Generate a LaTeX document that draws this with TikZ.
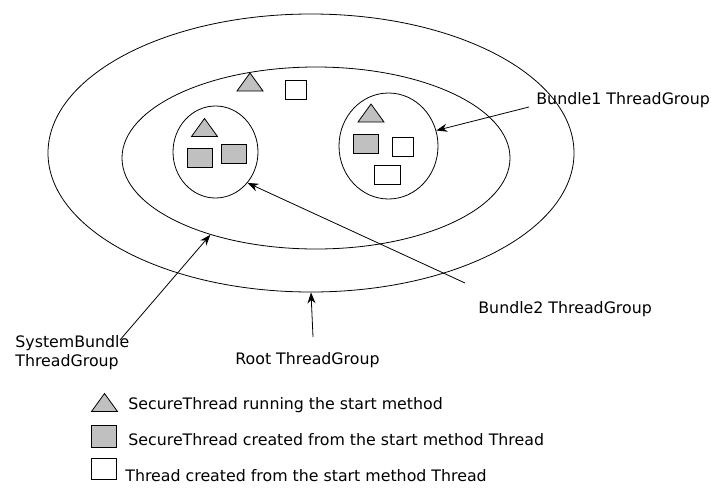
\documentclass[tikz,border=0pt]{standalone}
\usepackage{fontspec}
\setmainfont{DejaVu Sans}
\usetikzlibrary{shapes.geometric,arrows.meta,positioning}
\definecolor{threadgray}{RGB}{192,192,192}
\tikzstyle{tgroup} = [draw, ellipse, inner sep=0pt, line width=0.8pt]
\tikzstyle{grouplabel} = [anchor=west, inner sep=0pt, align=left, font=\fontsize{15.8}{19.5}\selectfont]
\tikzstyle{secthread} = [draw, rectangle, fill=threadgray, inner sep=0pt, minimum width=25pt, minimum height=19pt, line width=0.8pt]
\tikzstyle{thread} = [draw, rectangle, fill=white, inner sep=0pt, minimum width=21pt, minimum height=19pt, line width=0.8pt]
\tikzset{pics/running/.style={code={\draw[fill=threadgray, line width=0.8pt] (-13,9) -- (13,9) -- (0,-9) -- cycle;}}}

\begin{document}
\begin{tikzpicture}[x=1pt, y=-1pt, >={Stealth[length=11pt,width=8pt]}, line width=0.8pt]
\useasboundingbox (0,0) rectangle (711,490);

% thread groups
\node [tgroup, minimum width=526pt, minimum height=278pt] (root) at (311,153) {};
\node [tgroup, minimum width=388pt, minimum height=182pt] (sysbundle) at (316,158) {};
\node [tgroup, minimum width=85pt, minimum height=92pt] (bundle2) at (215.5,152) {};
\node [tgroup, minimum width=99pt, minimum height=106pt] (bundle1) at (388.5,146) {};

% threads
\pic at (250,82) {running};
\node [thread] (t0) at (295.5,89.5) {};
\pic at (204.5,127.5) {running};
\node [secthread] (s1) at (199.5,157.5) {};
\node [secthread] (s2) at (233.5,153.5) {};
\pic at (371,113) {running};
\node [secthread] (s3) at (365.5,143.5) {};
\node [thread] (t1) at (402.5,146.5) {};
\node [thread, minimum width=26pt] (t2) at (387,174.5) {};

% labels
\node [grouplabel] (l1) at (536,100) {Bundle1 ThreadGroup};
\node [grouplabel] (l2) at (478,309) {Bundle2 ThreadGroup};
\node [grouplabel] (l3) at (15,352.5) {SystemBundle\\ThreadGroup};
\node [grouplabel] (l4) at (235,360) {Root ThreadGroup};

\coordinate (a1) at (529,107);
\coordinate (a2) at (465,283);
\coordinate (a3) at (120,340);
\coordinate (a4) at (313,337);
\draw [->] (a1) -- (bundle1.18);
\draw [->] (a2) -- (bundle2.-44);
\draw [->] (a3) -- (sysbundle.216);
\draw [->] (a4) -- (root.south);

% legend
\pic at (104.5,402.5) {running};
\node [secthread, minimum height=22pt] (ks) at (103.5,436) {};
\node [thread, minimum width=25pt, minimum height=21pt] (kt) at (103.5,468.5) {};
\node [grouplabel] (k1) at (128,405) {SecureThread running the start method};
\node [grouplabel] (k2) at (128,440) {SecureThread created from the start method Thread};
\node [grouplabel] (k3) at (125,476) {Thread created from the start method Thread};

\end{tikzpicture}
\end{document}
